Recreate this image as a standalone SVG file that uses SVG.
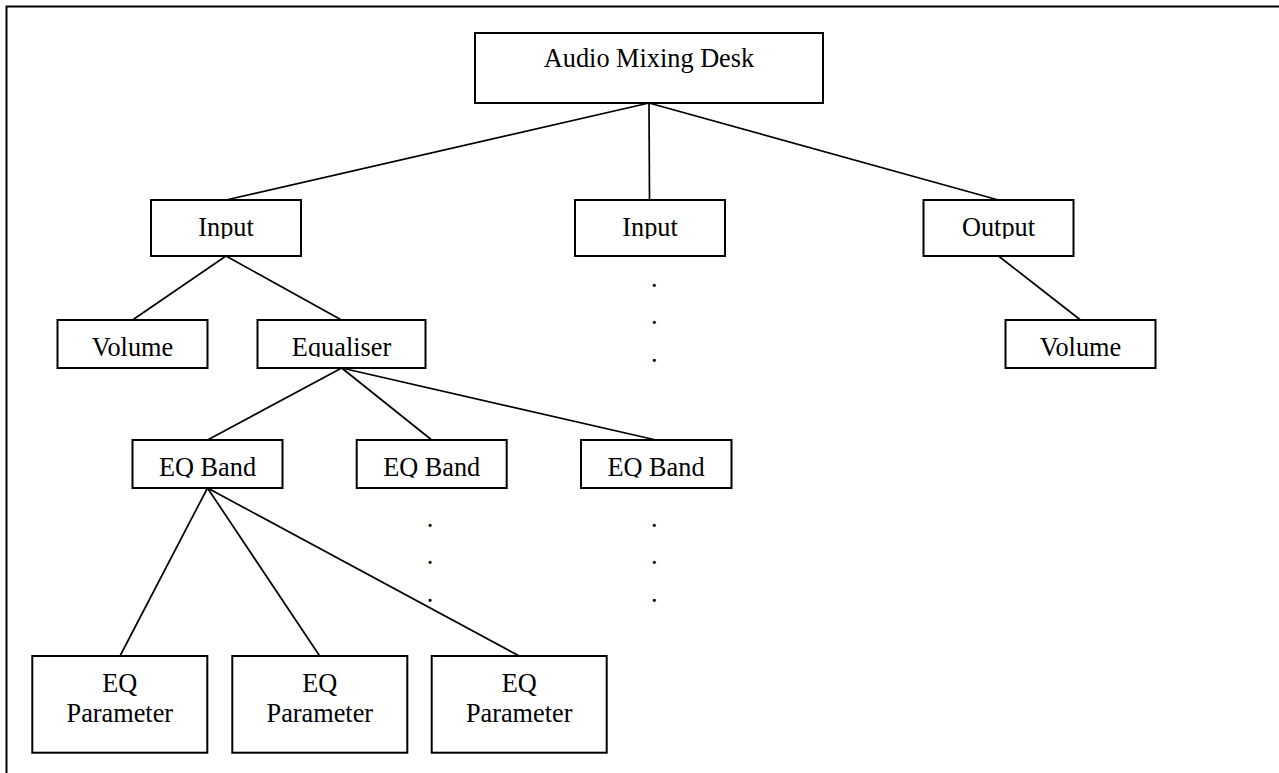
<svg xmlns="http://www.w3.org/2000/svg" width="1279" height="773" viewBox="0 0 1279 773">
<style>
.box{fill:#fff;stroke:#000;stroke-width:2}
.lbl{font-family:"Liberation Serif","Times New Roman",serif;font-size:26.3px;fill:#000;text-anchor:middle}
.dot{font-family:"Liberation Serif","Times New Roman",serif;font-size:26.3px;fill:#000;text-anchor:middle}
.con line{stroke:#000;stroke-width:1.7;fill:none}
.frame{stroke:#000;stroke-width:2;fill:none}
</style>
<defs>
<clipPath id="clipRow1" clipPathUnits="userSpaceOnUse"><rect x="0" y="200" width="1279" height="38.8"/></clipPath>
<clipPath id="clipRow2" clipPathUnits="userSpaceOnUse"><rect x="0" y="320" width="1279" height="37"/></clipPath>
<clipPath id="clipRow3" clipPathUnits="userSpaceOnUse"><rect x="0" y="440" width="1279" height="37.4"/></clipPath>
</defs>
<rect width="1279" height="773" fill="#fff"/>
<path class="frame" d="M6.5 773 V6.5 H1279"/>
<g id="connectors" class="con">
<line x1="649" y1="103" x2="226" y2="200"/>
<line x1="649" y1="103" x2="649.5" y2="200"/>
<line x1="649" y1="103" x2="998.5" y2="200"/>
<line x1="226" y1="256" x2="132.5" y2="320"/>
<line x1="226" y1="256" x2="341.5" y2="320"/>
<line x1="998.5" y1="256" x2="1080.5" y2="320"/>
<line x1="341.7" y1="368" x2="207.5" y2="440"/>
<line x1="341.7" y1="368" x2="431.7" y2="440"/>
<line x1="341.7" y1="368" x2="656" y2="440"/>
<line x1="207.5" y1="488" x2="120" y2="656"/>
<line x1="207.5" y1="488" x2="319.7" y2="656"/>
<line x1="207.5" y1="488" x2="519.3" y2="656"/>
</g>
<g id="audio-mixing-desk"><rect class="box" x="475" y="33" width="348" height="70"/><text class="lbl" x="649" y="67.3">Audio Mixing Desk</text></g>
<g id="input-1"><rect class="box" x="151" y="200" width="150" height="56"/><text class="lbl" x="226" y="236" clip-path="url(#clipRow1)">Input</text></g>
<g id="input-2"><rect class="box" x="575" y="200" width="150" height="56"/><text class="lbl" x="650" y="236" clip-path="url(#clipRow1)">Input</text></g>
<g id="output"><rect class="box" x="923.5" y="200" width="150" height="56"/><text class="lbl" x="998.5" y="236" clip-path="url(#clipRow1)">Output</text></g>
<g id="volume-1"><rect class="box" x="57.5" y="320" width="150" height="48"/><text class="lbl" x="132.5" y="355.7">Volume</text></g>
<g id="equaliser"><rect class="box" x="257.5" y="320" width="168" height="48"/><text class="lbl" x="341.5" y="355.7" clip-path="url(#clipRow2)">Equaliser</text></g>
<g id="volume-2"><rect class="box" x="1005.5" y="320" width="150" height="48"/><text class="lbl" x="1080.5" y="355.7">Volume</text></g>
<g id="input-2-more"><text class="dot" x="654.3" y="286.5">.</text><text class="dot" x="654.3" y="323.8">.</text><text class="dot" x="654.3" y="361.5">.</text></g>
<g id="eq-band-1"><rect class="box" x="132.5" y="440" width="150" height="48"/><text class="lbl" x="207.5" y="476" clip-path="url(#clipRow3)">EQ Band</text></g>
<g id="eq-band-2"><rect class="box" x="356.7" y="440" width="150" height="48"/><text class="lbl" x="431.7" y="476" clip-path="url(#clipRow3)">EQ Band</text></g>
<g id="eq-band-3"><rect class="box" x="581" y="440" width="150.5" height="48"/><text class="lbl" x="656" y="476" clip-path="url(#clipRow3)">EQ Band</text></g>
<g id="eq-band-2-more"><text class="dot" x="430" y="526.5">.</text><text class="dot" x="430" y="563.8">.</text><text class="dot" x="430" y="601.5">.</text></g>
<g id="eq-band-3-more"><text class="dot" x="654.3" y="526.5">.</text><text class="dot" x="654.3" y="563.8">.</text><text class="dot" x="654.3" y="601.5">.</text></g>
<g id="eq-parameter-1"><rect class="box" x="32.3" y="656" width="175" height="96.7"/><text class="lbl" x="119.8" y="692.3">EQ</text><text class="lbl" x="119.8" y="722.3">Parameter</text></g>
<g id="eq-parameter-2"><rect class="box" x="232.3" y="656" width="175" height="96.7"/><text class="lbl" x="319.8" y="692.3">EQ</text><text class="lbl" x="319.8" y="722.3">Parameter</text></g>
<g id="eq-parameter-3"><rect class="box" x="431.7" y="656" width="175" height="96.7"/><text class="lbl" x="519.2" y="692.3">EQ</text><text class="lbl" x="519.2" y="722.3">Parameter</text></g>
</svg>
